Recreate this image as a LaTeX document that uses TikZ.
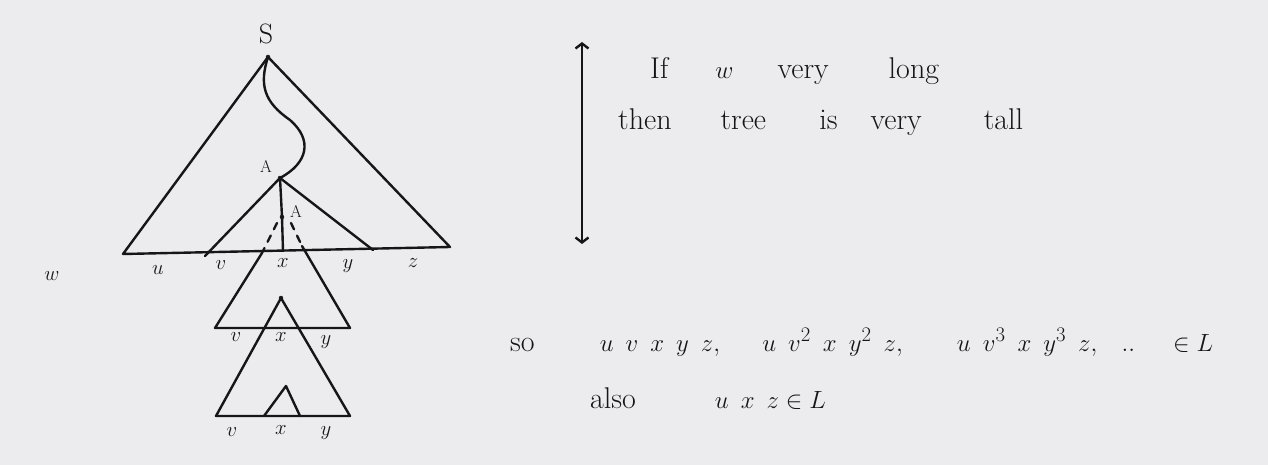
\documentclass[tikz,border=0pt]{standalone}
\usetikzlibrary{arrows.meta}
\definecolor{ink}{RGB}{22,22,24}
\definecolor{paper}{RGB}{236,236,238}
\newcommand{\lsp}{\hspace{0.4em}}
\tikzset{
  pen/.style={ink, line width=2.4pt, line join=round, line cap=round},
  leaf/.style={font=\fontsize{22}{24}\selectfont, text=ink, inner sep=0pt},
  note/.style={font=\fontsize{30}{34}\selectfont, text=ink, anchor=base west, inner sep=0pt},
}
\begin{document}
\begin{tikzpicture}[x=1pt, y=-1pt]
    \fill[paper] (0,0) rectangle (1268,465);
    \useasboundingbox (0,0) rectangle (1268,465);
    \coordinate (s) at (268,57); \coordinate (bl) at (123,254); \coordinate (br) at (450,247);
    \coordinate (m) at (290,120); \coordinate (a1) at (280,178); \coordinate (a2) at (282,217);
    \coordinate (bi) at (205,256); \coordinate (bj) at (373,250); \coordinate (xb) at (283,251);
    \coordinate (d1) at (277,223); \coordinate (d2) at (262,253);
    \coordinate (d3) at (291,223); \coordinate (d4) at (302,246);
    \coordinate (ml) at (215,328); \coordinate (mr) at (350,328);
    \coordinate (t) at (281,298); \coordinate (tl) at (216,416); \coordinate (tr) at (350,416);
    \coordinate (u) at (286,386); \coordinate (ul) at (264,416); \coordinate (ur) at (300,416);
    \draw[pen] (s) -- (bl) -- (br) -- cycle; % whole tree
    \draw[pen] (s) .. controls (259,85) and (264,102) .. (m) .. controls (313,140) and (308,163) .. (a1); % path to A
    \draw[pen] (bi) -- (a1) -- (bj); % subtree under A
    \draw[pen] (a1) -- (a2) -- (xb);
    \draw[pen, dash pattern=on 7pt off 7pt] (d1) -- (d2) (d3) -- (d4); % pumped copy
    \draw[pen] (d2) -- (ml) -- (mr) -- (d4);
    \draw[pen] (t) -- (tl) -- (tr) -- cycle;
    \draw[pen] (ul) -- (u) -- (ur);
    \foreach \p in {s,a1,a2,t} \filldraw[ink] (\p) circle (2pt);
    % labels
    \node[font=\fontsize{28}{30}\selectfont, text=ink] (slbl) at (266,34) {S};
    \node[font=\fontsize{17}{18}\selectfont, text=ink] (albl) at (266,166) {A};
    \node[font=\fontsize{17}{18}\selectfont, text=ink] (blbl) at (296,211) {A};
    \node[leaf] (w) at (52,276) {$w$};
    \node[leaf] (u1) at (158,270) {$u$}; \node[leaf] (v1) at (221,265) {$v$};
    \node[leaf] (x1) at (283,263) {$x$}; \node[leaf] (y1) at (348,266) {$y$};
    \node[leaf] (z1) at (413,263) {$z$};
    \node[leaf] (v2) at (236,337) {$v$}; \node[leaf] (x2) at (281,337) {$x$};
    \node[leaf] (y2) at (326,342) {$y$};
    \node[leaf] (v3) at (232,432) {$v$}; \node[leaf] (x3) at (281,430) {$x$};
    \node[leaf] (y3) at (326,433) {$y$};
    % height arrow and notes
    \coordinate (up) at (582,42); \coordinate (dn) at (582,244);
    \draw[pen, {Straight Barb[length=5pt,width=13pt]}-{Straight Barb[length=5pt,width=13pt]}] (up) -- (dn);
    \node[note] (long) at (650,79) {If\hspace{1.57em}$w$\hspace{1.47em}very\hspace{2em}long};
    \node[note] (tall) at (618,130) {then\hspace{1.63em}tree\hspace{1.77em}is\hspace{1.1em}very\hspace{2.07em}tall};
    \node[note] (so) at (510,351) {so\hspace{2.17em}$u\lsp v\lsp x\lsp y\lsp z,\hspace{1.27em}u\lsp v^2\lsp x\lsp y^2\lsp z,\hspace{1.67em}u\lsp v^3\lsp x\lsp y^3\lsp z,\hspace{0.67em}..\hspace{1.03em}\in L$};
    \node[note] (also) at (590,408) {also\hspace{2.63em}$u\lsp x\lsp z\in L$};
\end{tikzpicture}
\end{document}
